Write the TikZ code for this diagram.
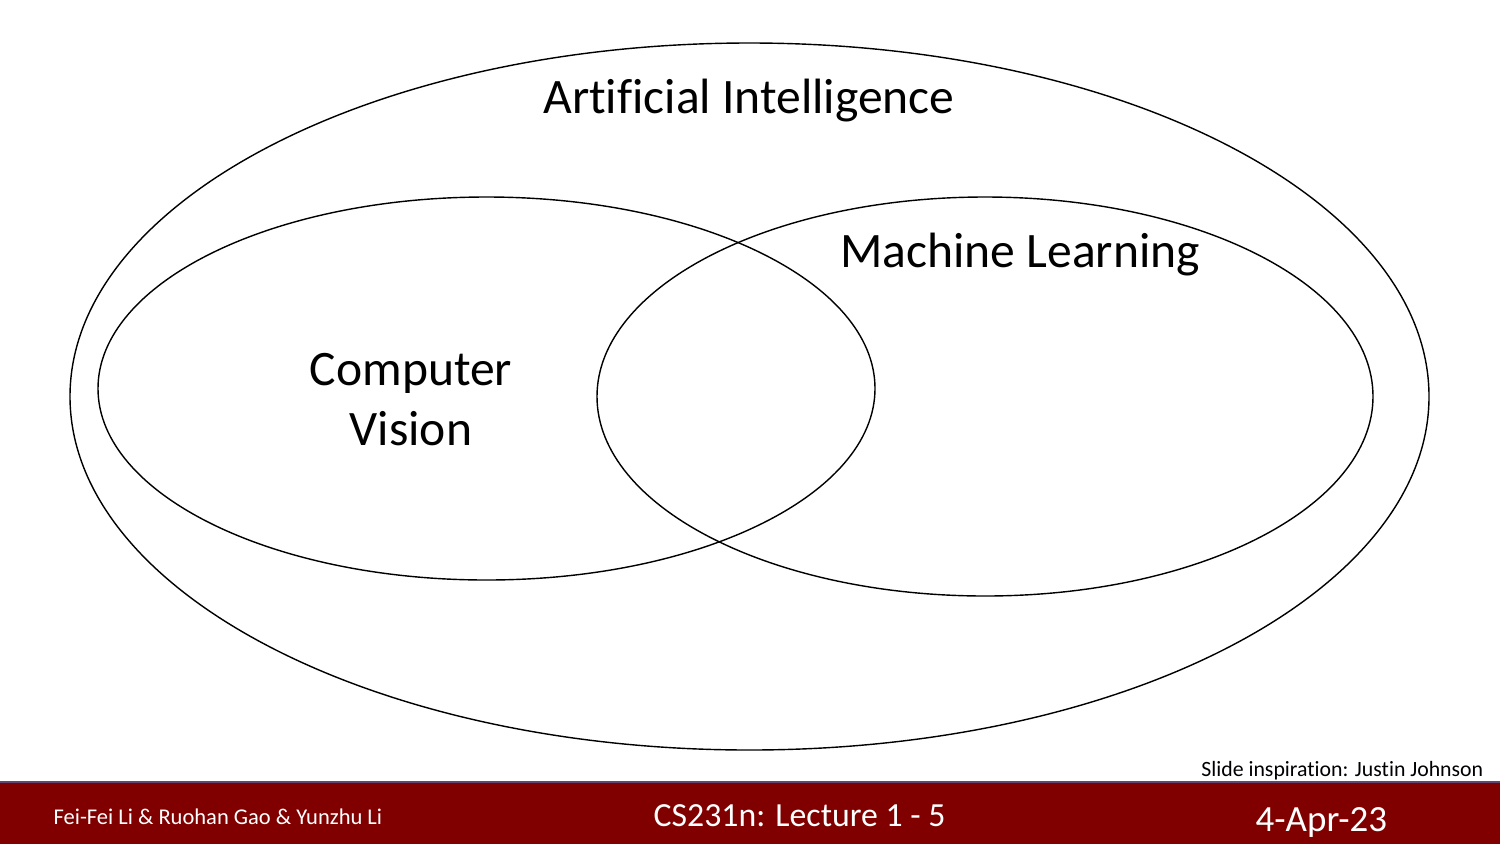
\documentclass[tikz,border=0pt]{standalone}
\usepackage{fontspec}
\setmainfont{Carlito}[Ligatures={NoCommon,NoContextual},RawFeature={-liga;-clig;-calt}]
\definecolor{footred}{RGB}{128,0,0}
\definecolor{footline}{RGB}{100,70,110}
\newcommand{\nolig}{\kern0pt{}}
\tikzset{
  venn/.style={draw=black, line width=0.4pt},
  bigtxt/.style={font=\fontsize{14.1pt}{17pt}\selectfont, inner sep=0pt},
  foottxt/.style={text=white, inner sep=0pt}
}
\begin{document}
\begin{tikzpicture}[x=0.01cm,y=0.01cm]
\useasboundingbox (0,0) rectangle (1500,844);
\fill[white] (0,0) rectangle (1500,844);
% ellipses
\draw[venn] (749.5,447.5) ellipse [x radius=679.5, y radius=353.5];
\draw[venn] (486.5,455.5) ellipse [x radius=388.5, y radius=191.5];
\draw[venn] (985,447.5) ellipse [x radius=388, y radius=199.5];
% labels
\node[bigtxt, anchor=base] (ai) at (749,731) {Art\nolig if\nolig icial Intelligence};
\node[bigtxt, anchor=base] (ml) at (1020,577) {Machine Learning};
\node[bigtxt, anchor=base] (cv1) at (411,459) {Computer};
\node[bigtxt, anchor=base] (cv2) at (411,399) {Vision};
% footer
\fill[footred] (0,0) rectangle (1500,62);
\draw[footline, line width=0.6pt] (0,62) -- (1500,62);
\node[anchor=base east, inner sep=0pt, font=\fontsize{6.2pt}{7pt}\selectfont] (insp) at (1484,68) {Slide inspirat\nolig ion: Just\nolig in Johnson};
\node[foottxt, anchor=base west, font=\fontsize{6.4pt}{7pt}\selectfont] (auth) at (53,20) {Fei-Fei Li \& Ruohan Gao \& Yunzhu Li};
\node[foottxt, anchor=base west, font=\fontsize{9.6pt}{11pt}\selectfont] (lect) at (653,18) {CS231n: Lecture 1 - 5};
\node[foottxt, anchor=base west, font=\fontsize{10.5pt}{12pt}\selectfont] (date) at (1255,13) {4-Apr-23};
\end{tikzpicture}
\end{document}
